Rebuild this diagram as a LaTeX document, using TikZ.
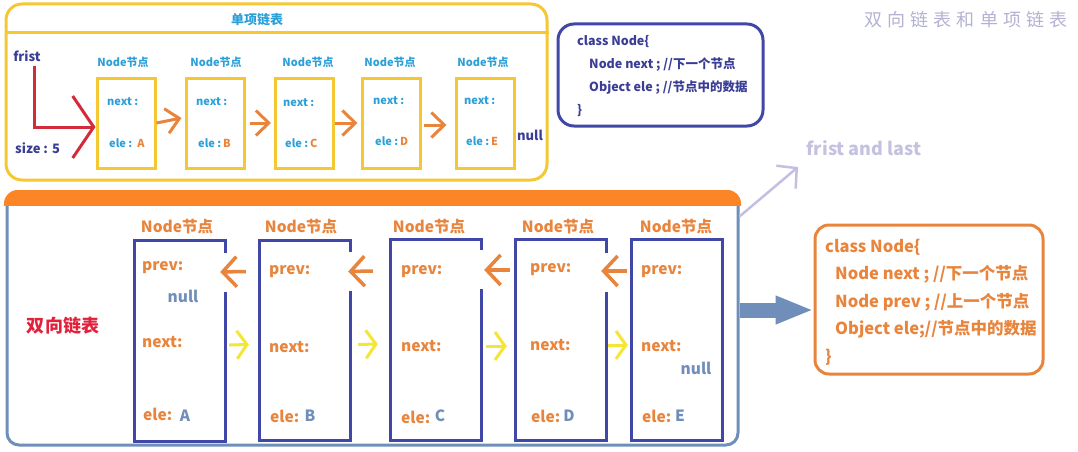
\documentclass[tikz,border=0pt]{standalone}
\usepackage{fontspec}
\setmainfont{Noto Sans CJK SC}
\newfontfamily\titlefont{Noto Sans CJK SC}[LetterSpace=28]
\usetikzlibrary{arrows.meta}
\definecolor{cyanT}{HTML}{2B9FD8}
\definecolor{navyT}{HTML}{3A3D96}
\definecolor{orangeT}{HTML}{E8843C}
\definecolor{yellowB}{HTML}{F5C832}
\definecolor{redL}{HTML}{D22B3A}
\definecolor{navyB}{HTML}{4047A6}
\definecolor{steel}{HTML}{6F8FBA}
\definecolor{bandC}{HTML}{FB8527}
\definecolor{yellowA}{HTML}{F5E634}
\definecolor{lav}{HTML}{C5BEE2}
\definecolor{redT}{HTML}{E3213B}
\definecolor{titleC}{HTML}{B4B2D2}
\definecolor{falC}{HTML}{C4C2E0}
\begin{document}
\begin{tikzpicture}[x=1pt,y=-1pt,
  sz/.style={font=\fontsize{#1pt}{#1pt}\selectfont\bfseries, inner sep=0pt},
  tbox/.style={draw=yellowB, line width=3pt, minimum width=58pt, minimum height=90pt, inner sep=0pt},
  bbox/.style={minimum width=90pt, minimum height=200pt, inner sep=0pt},
  bline/.style={draw=navyB, line width=3pt},
  oarr/.style={orangeT, line width=3pt, -{Straight Barb[length=13pt,width=25pt]}},
  parr/.style={orangeT, line width=3.5pt, -{Straight Barb[length=14pt,width=30pt]}},
  narr/.style={yellowA, line width=3pt, -{Straight Barb[length=10pt,width=28pt]}},
  lavarr/.style={lav, line width=2.5pt, -{Straight Barb[length=14pt,width=30pt]}},
  bigarr/.style={steel, line width=15pt, -{Triangle[length=38pt,width=26pt]}},
  tlab/.style={sz=11, text=cyanT},
  blab/.style={sz=15.5, text=orangeT},
  bval/.style={sz=15.5, text=steel}
]
\useasboundingbox (0,0) rectangle (1078,452);

% ---------- top: single linked list ----------
\node[draw=yellowB, line width=3pt, rounded corners=16pt, minimum width=541pt, minimum height=176pt] (top) at (276.5,92) {};
\draw[yellowB, line width=3pt] (top.west |- 0,33) -- (top.east |- 0,33);
\node[sz=13, text=cyanT] (ttl1) at (257,20) {单项链表};

\node[sz=13, text=navyT] (frist) at (27,56) {frist};
\node[sz=13, text=navyT, anchor=west] (size) at (15,148) {size : 5};

\node[tbox] (t1) at (126,123) {};
\node[tbox] (t2) at (215,123) {};
\node[tbox] (t3) at (304.5,123) {};
\node[tbox] (t4) at (391,123) {};
\node[tbox] (t5) at (485,123) {};

\node[tlab] (tn1) at (123,62) {Node节点};
\node[tlab] (tn2) at (216,62) {Node节点};
\node[tlab] (tn3) at (308,62) {Node节点};
\node[tlab] (tn4) at (390,62) {Node节点};
\node[tlab] (tn5) at (483,62) {Node节点};

\node[tlab, anchor=west] (tx1) at (107,102) {next :};
\node[tlab, anchor=west] (tx2) at (196,102) {next :};
\node[tlab, anchor=west] (tx3) at (283,103) {next :};
\node[tlab, anchor=west] (tx4) at (373,101) {next :};
\node[tlab, anchor=west] (tx5) at (464,101) {next :};

\node[tlab, anchor=west] (te1) at (109,143) {ele :\ \ \textcolor{orangeT}{A}};
\node[tlab, anchor=west] (te2) at (198,143) {ele :\,\textcolor{orangeT}{B}};
\node[tlab, anchor=west] (te3) at (285,143) {ele :\,\textcolor{orangeT}{C}};
\node[tlab, anchor=west] (te4) at (375,141) {ele :\,\textcolor{orangeT}{D}};
\node[tlab, anchor=west] (te5) at (466,141) {ele :\,\textcolor{orangeT}{E}};

\node[sz=13, text=navyT] (tnull) at (530,135) {null};

\draw[redL, line width=3pt, -{Straight Barb[length=21pt,width=62pt]}]
  ([xshift=7pt,yshift=-4pt]frist.south) |- ([yshift=-4pt]t1.west);

\draw[oarr] (t1.east) -- ([xshift=-3pt,yshift=5pt]t2.west);
\draw[oarr] ([xshift=4pt]t2.east) -- ([xshift=-3pt]t3.west);
\draw[oarr] (t3.east) -- ([xshift=-3pt]t4.west);
\draw[oarr] ([xshift=2pt,yshift=-2pt]t4.east) -- ([xshift=-8pt,yshift=-2pt]t5.west);

% ---------- top class box ----------
\node[draw=navyB, line width=3pt, rounded corners=16pt, minimum width=205pt, minimum height=102pt] (cls1) at (660.5,75) {};
\node[anchor=west, align=left, text=navyT, inner sep=0pt,
      font=\fontsize{12.5pt}{22.7pt}\selectfont\bfseries] (cls1t) at (577,76) {class Node\{\\
\hspace*{12pt}Node next ; //下一个节点\\
\hspace*{12pt}Object ele ; //节点中的数据\\
\}};

% ---------- title ----------
\node[font=\titlefont\fontsize{18pt}{18pt}\selectfont, text=titleC, inner sep=0pt] (title) at (966,20) {双向链表和单项链表};

% ---------- bottom: doubly linked list ----------
\node[draw=steel, fill=white, line width=3pt, rounded corners=12pt, minimum width=731pt, minimum height=252pt] (bot) at (372.5,319) {};
\begin{scope}
  \clip[rounded corners=13.5pt] ([shift={(-1.5pt,1.5pt)}]bot.north west) rectangle ([shift={(1.5pt,-1.5pt)}]bot.south east);
  \fill[bandC] ([shift={(-2pt,2pt)}]bot.north west) rectangle ([shift={(2pt,-14pt)}]bot.north east);
\end{scope}

\node[sz=18, text=redT] (dbl) at (63,326) {双向链表};

\node[bbox] (b1) at (180,341) {};
\node[bbox] (b2) at (305,340.5) {};
\node[bbox] (b3) at (436,340) {};
\node[bbox] (b4) at (561,340) {};
\node[bbox] (b5) at (677,340) {};

\draw[bline] ([yshift=-12pt]b1.north east) -- (b1.north east) -| (b1.south west) -| ([yshift=-51pt]b1.north east);
\draw[bline] ([yshift=-12pt]b2.north east) -- (b2.north east) -| (b2.south west) -| ([yshift=-51pt]b2.north east);
\draw[bline] ([yshift=-10pt]b3.north east) -- (b3.north east) -| (b3.south west) -| ([yshift=-49pt]b3.north east);
\draw[bline] ([yshift=-13pt]b4.north east) -- (b4.north east) -| (b4.south west) -| ([yshift=-52pt]b4.north east);
\draw[bline] (b5.north west) rectangle (b5.south east);

\node[blab] (bn1) at (177,227) {Node节点};
\node[blab] (bn2) at (301,227) {Node节点};
\node[blab] (bn3) at (429,227) {Node节点};
\node[blab] (bn4) at (558,227) {Node节点};
\node[blab] (bn5) at (676,227) {Node节点};

\node[blab, anchor=west] (bp1) at (142,268) {prev:};
\node[blab, anchor=west] (bp2) at (269,272) {prev:};
\node[blab, anchor=west] (bp3) at (401,272) {prev:};
\node[blab, anchor=west] (bp4) at (530,270) {prev:};
\node[blab, anchor=west] (bp5) at (641,272) {prev:};

\node[blab, anchor=west] (bx1) at (142,342) {next:};
\node[blab, anchor=west] (bx2) at (269,347) {next:};
\node[blab, anchor=west] (bx3) at (401,346) {next:};
\node[blab, anchor=west] (bx4) at (530,345) {next:};
\node[blab, anchor=west] (bx5) at (641,346) {next:};

\node[blab, anchor=west] (be1) at (143,414) {ele:};
\node[blab, anchor=west] (be2) at (270,416) {ele:};
\node[blab, anchor=west] (be3) at (401,417) {ele:};
\node[blab, anchor=west] (be4) at (531,416) {ele:};
\node[blab, anchor=west] (be5) at (642,416) {ele:};

\node[bval] (bv1) at (185,416) {A};
\node[bval] (bv2) at (310,416) {B};
\node[bval] (bv3) at (440,416) {C};
\node[bval] (bv4) at (569,416) {D};
\node[bval] (bv5) at (680,416) {E};

\node[bval] (bnull1) at (183,296) {null};
\node[bval] (bnull5) at (696,368) {null};

% prev arrows (leftwards)
\draw[parr] ([xshift=-14pt,yshift=69pt]b2.west) -- ([xshift=-5pt,yshift=69pt]b1.east);
\draw[parr] ([xshift=-18pt,yshift=69pt]b3.west) -- ([xshift=-2pt,yshift=69pt]b2.east);
\draw[parr] ([xshift=-6pt,yshift=70pt]b4.west) -- ([xshift=3pt,yshift=70pt]b3.east);
\draw[parr] ([xshift=-5pt,yshift=69pt]b5.west) -- ([xshift=-5pt,yshift=69pt]b4.east);

% next arrows (rightwards)
\draw[narr] ([xshift=4pt,yshift=-4pt]b1.east) -- ([xshift=-11pt,yshift=-4pt]b2.west);
\draw[narr] ([xshift=8pt,yshift=-4pt]b2.east) -- ([xshift=-13pt,yshift=-4pt]b3.west);
\draw[narr] ([xshift=5pt,yshift=-6pt]b3.east) -- ([xshift=-9pt,yshift=-6pt]b4.west);
\draw[narr] ([xshift=2pt,yshift=-5pt]b4.east) -- ([xshift=-4pt,yshift=-5pt]b5.west);

% ---------- bottom class box ----------
\node[draw=orangeT, line width=3pt, rounded corners=14pt, minimum width=228pt, minimum height=149pt] (cls2) at (929,299.5) {};
\node[anchor=west, align=left, text=orangeT, inner sep=0pt,
      font=\fontsize{16.5pt}{27.5pt}\selectfont\bfseries] (cls2t) at (825,302) {class Node\{\\
\hspace*{10pt}Node next ; //下一个节点\\
\hspace*{10pt}Node prev ; //上一个节点\\
\hspace*{10pt}Object ele;//节点中的数据\\
\}};

\draw[bigarr] ([yshift=9pt]bot.east) -- ([yshift=-10.5pt]cls2.west);

% ---------- frist and last ----------
\node[sz=18, text=falC] (fal) at (864,148) {frist and last};
\coordinate (flTip) at (798,167);
\draw[lavarr] ([yshift=-25pt]bot.north east) -- (flTip);
\end{tikzpicture}
\end{document}
